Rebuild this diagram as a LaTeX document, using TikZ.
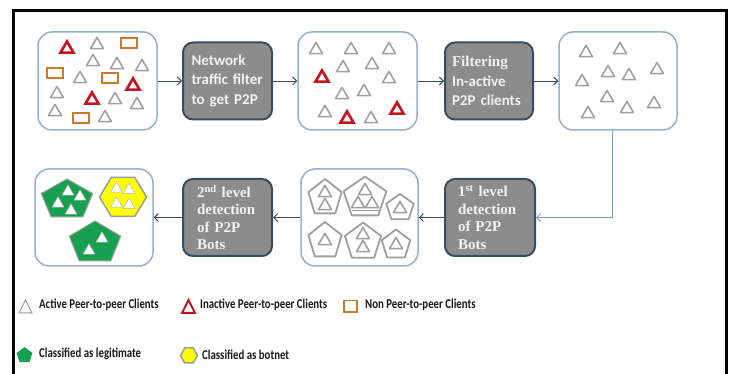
\documentclass[tikz,border=0pt]{standalone}
\usepackage{fontspec}
\newfontfamily\calfont{Carlito}
\newfontfamily\legfont[FakeStretch=0.8]{Carlito}
\newfontfamily\timesfont{Liberation Serif}
\usetikzlibrary{arrows.meta,calc}
\definecolor{boxedge}{RGB}{150,176,206}
\definecolor{procfill}{RGB}{140,140,140}
\definecolor{procedge}{RGB}{58,76,96}
\definecolor{tgrey}{RGB}{160,160,160}
\definecolor{tred}{RGB}{196,20,32}
\definecolor{torange}{RGB}{200,122,45}
\definecolor{lgreen}{RGB}{22,160,80}
\definecolor{byellow}{RGB}{255,255,0}
\definecolor{polyedge}{RGB}{150,160,150}
\definecolor{arrowc}{RGB}{60,72,88}
\definecolor{arrowl}{RGB}{120,155,190}
\definecolor{proctext}{RGB}{242,242,242}
% triangle: x, y, half-width, half-height, style
\newcommand\tri[5]{\draw[#5,shift={(#1,#2)}] (-#3,#4) -- (#3,#4) -- (0,-#4) -- cycle;}
% pentagon: x, y, rx, ry, style
\newcommand\pent[5]{\draw[#5,shift={(#1,#2)},xscale=#3,yscale=#4] (0,-1) -- (0.951,-0.309) -- (0.588,0.809) -- (-0.588,0.809) -- (-0.951,-0.309) -- cycle;}
% hexagon: x, y, half-width, half-height, style
\newcommand\hexa[5]{\draw[#5,shift={(#1,#2)},xscale=#3,yscale=#4] (-1,0) -- (-0.5,-1) -- (0.5,-1) -- (1,0) -- (0.5,1) -- (-0.5,1) -- cycle;}
\newcommand\orect[2]{\draw[torange,line width=1.8pt] ($(#1,#2)+(-8,-5)$) rectangle ($(#1,#2)+(8,5)$);}
\newcommand\gtri[2]{\tri{#1}{#2}{6.5}{5.6}{tgrey,line width=1.6pt,line join=round}}
\newcommand\rtri[2]{\tri{#1}{#2}{6.5}{5.6}{tred,line width=2.6pt}}
\newcommand\wtri[2]{\tri{#1}{#2}{6}{5.2}{fill=white,draw=gray!60,line width=0.5pt}}
\tikzset{
  container/.style={draw=boxedge,line width=1.5pt,rounded corners=14pt,fill=white,inner sep=0pt},
  process/.style={draw=procedge,line width=2pt,fill=procfill,rounded corners=10pt,
    minimum width=89pt,minimum height=77pt,text=proctext,inner sep=0pt,align=left},
  flow/.style={draw=arrowc,line width=0.9pt,-{Straight Barb[length=4pt,width=8pt]}},
  flowl/.style={draw=arrowl,line width=0.9pt,-{Straight Barb[length=4pt,width=8pt]}},
  legtext/.style={anchor=west,inner sep=0pt,text=black!90,font=\legfont\bfseries\fontsize{13.5}{15}\selectfont},
}
\begin{document}
\begin{tikzpicture}[x=1pt,y=-1pt]
\useasboundingbox (0,0) rectangle (732,374);
\fill[white] (0,0) rectangle (732,374);
% frame
\draw[black,line width=3pt] (13.5,380) -- (13.5,10.5) -- (726,10.5) -- (726,380);

% containers
\node[container,minimum width=119pt,minimum height=98pt] (b1) at (97.5,81) {};
\node[container,minimum width=119pt,minimum height=98pt] (b2) at (357.5,81) {};
\node[container,minimum width=118pt,minimum height=98pt] (b3) at (618,81) {};
\node[container,minimum width=117pt,minimum height=97pt] (m) at (359.5,217.5) {};
\node[container,minimum width=118pt,minimum height=97pt] (f) at (94,217.5) {};

% process boxes
\node[process,text width=72pt,font=\calfont\bfseries\fontsize{15}{19.5}\selectfont] (p1) at (227.5,81)
  {Network\\traffic filter\\to get P2P};
\node[process,minimum width=88pt,text width=74pt,font=\calfont\bfseries\fontsize{15}{19.5}\selectfont] (p2) at (489,81)
  {{\timesfont Filtering}\\In-active\\P2P clients};
\node[process,minimum width=90pt,text width=64pt,font=\timesfont\bfseries\fontsize{15}{17.5}\selectfont] (p3) at (490,217.5)
  {1\textsuperscript{st} level\\detection\\of P2P\\Bots};
\node[process,text width=61pt,font=\timesfont\bfseries\fontsize{15}{17.5}\selectfont] (p4) at (227.5,217.5)
  {2\textsuperscript{nd} level\\detection\\of P2P\\Bots};

% connectors
\draw[flow] (b1) -- (p1);
\draw[flow] (p1) -- (b2);
\draw[flow] (b2) -- (p2);
\draw[flow] (p2) -- (b3);
\coordinate (turn) at (612,217.5);
\draw[flowl] (b3.south -| turn) -- (turn) -- (p3);
\draw[flow] (p3) -- (m);
\draw[flow] (m) -- (p4);
\draw[flow] (p4) -- (f);

% box 1 contents
\foreach \x/\y in {97/43,93/60,117/63,142/65,80/77,57/92,115/98,137/103,55/110,105/116} {\gtri{\x}{\y}}
\foreach \x/\y in {67/47,133/84,92/98} {\rtri{\x}{\y}}
\foreach \x/\y in {129/43,55/73,110/78,81/118} {\orect{\x}{\y}}

% box 2 contents
\foreach \x/\y in {316/48,351/48,389/48,343/66,372/63,389/77,342/93,364/90,325/111,371/117} {\gtri{\x}{\y}}
\foreach \x/\y in {322/76,347/117,397/108} {\rtri{\x}{\y}}

% box 3 contents
\foreach \x/\y in {586/51,620/48,608/71,629/74,657/68,582/80,607/96,627/107,654/102,588/112} {\gtri{\x}{\y}}

% middle box: grey pentagon groups
\pent{325}{198}{17.5}{19}{tgrey,line width=1.8pt,line join=round}
\gtri{325}{191}\gtri{325}{204}
\pent{365}{198}{22.5}{21.5}{tgrey,line width=1.8pt,line join=round}
\gtri{365}{189}\gtri{358}{202}\gtri{372}{202}
\draw[tgrey,line width=1.6pt] (352,210.5) -- (380,210.5);
\pent{400}{208}{14.5}{14}{tgrey,line width=1.8pt,line join=round}
\gtri{400}{207}
\pent{325}{241}{17.5}{19}{tgrey,line width=1.8pt,line join=round}
\gtri{325}{239}
\pent{363}{242}{19}{19.5}{tgrey,line width=1.8pt,line join=round}
\gtri{363}{233}\gtri{363}{246}
\pent{396}{245}{15}{15.5}{tgrey,line width=1.8pt,line join=round}
\gtri{396}{243}

% final box: classified groups
\pent{67}{200}{27}{21}{fill=lgreen,draw=polyedge,line width=1pt}
\wtri{68}{190}\wtri{80}{195}\wtri{58}{202}\wtri{71}{209}
\hexa{123}{197}{23.5}{19.5}{fill=byellow,draw=polyedge,line width=1.5pt}
\wtri{116.5}{187}\wtri{129}{188.5}\wtri{116.5}{202}\wtri{129}{203.5}
\pent{95}{243}{27}{22}{fill=lgreen,draw=polyedge,line width=1pt}
\wtri{102}{237}\wtri{89}{249}

% legend
\tri{25.5}{306.5}{6.5}{6.5}{tgrey,line width=1pt}
\node[legtext] (l1) at (39,305) {Active Peer-to-peer Clients};
\tri{188.5}{306.5}{6.5}{6.5}{tred,line width=2pt}
\node[legtext] (l2) at (200,305) {Inactive Peer-to-peer Clients};
\draw[torange,line width=1.5pt] (344,300.5) rectangle (357,312);
\node[legtext] (l3) at (365,305) {Non Peer-to-peer Clients};
\pent{24.5}{355.5}{8}{8}{fill=lgreen,draw=lgreen,line width=0.5pt}
\node[legtext] (l4) at (39,354) {Classified as legitimate};
\hexa{189}{355.5}{8.5}{7.5}{fill=byellow,draw=polyedge,line width=1.5pt}
\node[legtext] (l5) at (202,355) {Classified as botnet};
\end{tikzpicture}
\end{document}
